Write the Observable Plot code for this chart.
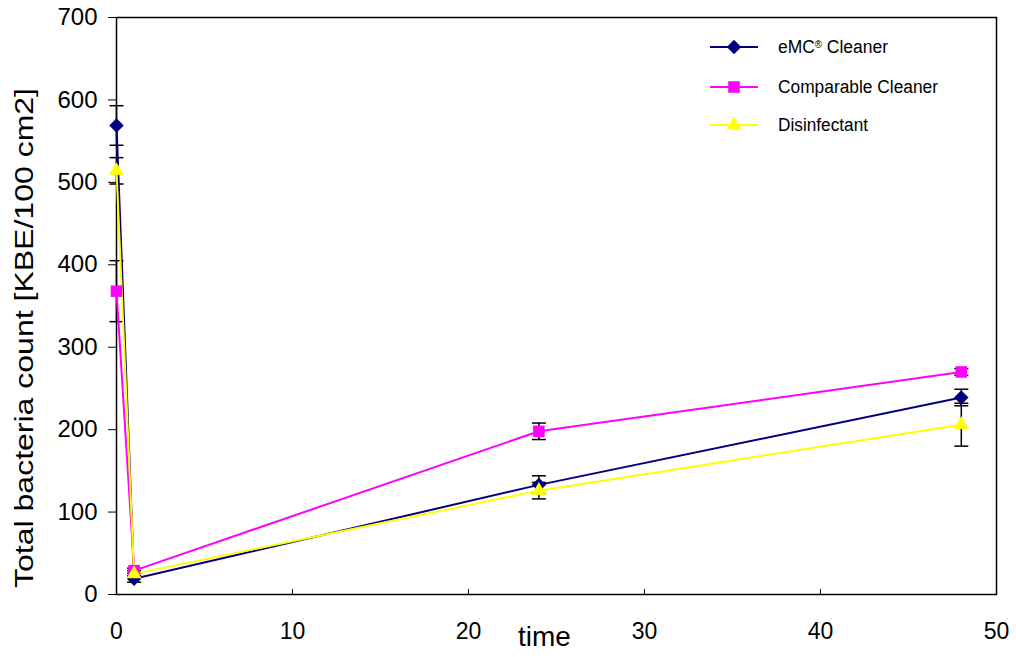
<!DOCTYPE html>
<html>
<head>
<meta charset="utf-8">
<script src="https://cdn.jsdelivr.net/npm/d3@7"></script>
<script src="https://cdn.jsdelivr.net/npm/@observablehq/plot@0.6"></script>
<style>
  html, body { margin: 0; padding: 0; background: #fff; }
  #wrap { position: relative; width: 1016px; height: 657px; }
  #legend { position: absolute; left: 0; top: 0; pointer-events: none; }
</style>
</head>
<body>
<div id="wrap"></div>
<script>
// ---- data ----
const times = [0, 1, 24, 48];
const seriesNames = ["eMC\u00AE Cleaner", "Comparable Cleaner", "Disinfectant"];
const seriesColors = ["#000080", "#FF00FF", "#FFFF00"];
const seriesSymbols = ["diamond2", "square", "triangle"];
const emcValues = [569, 19, 133, 239];
const emcErrors = [24, 4, 11, 10];
const compValues = [368, 29, 198, 270];
const compErrors = [37, 3, 10, 4];
const disValues = [514, 25, 126, 206];
const disErrors = [16, 4, 10, 26];
const xTicks = [0, 10, 20, 30, 40, 50];
const yTicks = [0, 100, 200, 300, 400, 500, 600, 700];
const xLabel = "time";
const yLabel = "Total bacteria count [KBE/100 cm2]";

const valueSets = [emcValues, compValues, disValues];
const errorSets = [emcErrors, compErrors, disErrors];
const symbolRadius = [6.5, 6.5, 5.5];

const rows = [];
seriesNames.forEach((s, i) => {
  times.forEach((t, j) => {
    rows.push({series: s, t, v: valueSets[i][j], e: errorSets[i][j]});
  });
});
const caps = rows.flatMap(d => [{t: d.t, y: d.v + d.e}, {t: d.t, y: d.v - d.e}]);

const capSymbol = {
  draw(context, size) {
    const w = Math.sqrt(size / Math.PI);
    context.moveTo(-w, 0);
    context.lineTo(w, 0);
  }
};

const font = "'Liberation Sans', Arial, sans-serif";

const chart = Plot.plot({
  width: 1016,
  height: 657,
  marginLeft: 116,
  marginRight: 20,
  marginTop: 17,
  marginBottom: 63,
  style: {background: "#fff", fontFamily: font, color: "#000"},
  x: {domain: [0, 50]},
  y: {domain: [0, 700]},
  marks: [
    Plot.frame({stroke: "#000", strokeWidth: 1.5}),
    Plot.axisY({ticks: yTicks, tickSize: 8, tickPadding: 11, fontSize: 24, label: null, stroke: "#000"}),
    Plot.axisX({ticks: xTicks, tickSize: -5, tickPadding: 33, fontSize: 23, label: null, stroke: "#000"}),
    Plot.ruleX(rows, {x: "t", y1: d => d.v - d.e, y2: d => d.v + d.e, stroke: "#000", strokeWidth: 1.5}),
    Plot.dot(caps, {x: "t", y: "y", symbol: capSymbol, r: 7, stroke: "#000", strokeWidth: 1.5, fill: "none"}),
    ...seriesNames.map((s, i) =>
      Plot.line(rows.filter(d => d.series === s), {x: "t", y: "v", stroke: seriesColors[i], strokeWidth: 2})
    ),
    ...seriesNames.map((s, i) =>
      Plot.dot(rows.filter(d => d.series === s), {x: "t", y: "v", symbol: seriesSymbols[i], r: symbolRadius[i], fill: seriesColors[i], stroke: "none"})
    ),
    Plot.text([xLabel], {frameAnchor: "bottom", dy: 51, dx: -12, fontSize: 28, fill: "#000"}),
    Plot.text([yLabel], {frameAnchor: "left", textAnchor: "middle", rotate: -90, dx: -92, dy: 32, fontSize: 26, fill: "#000"})
  ]
});
document.getElementById("wrap").appendChild(chart);

// stretch the y title to the reference's length
d3.select(chart).selectAll("text")
  .filter(function() { return this.textContent === yLabel; })
  .attr("textLength", 500).attr("lengthAdjust", "spacingAndGlyphs");

// ---- legend overlay ----
const legend = d3.select("#wrap").append("svg")
  .attr("id", "legend").attr("width", 1016).attr("height", 657);
const legendY = [47, 87, 125];
const legendTextLen = [110, 160, 90];
const legendSym = [d3.symbolDiamond2, d3.symbolSquare, d3.symbolTriangle];
seriesNames.forEach((s, i) => {
  const g = legend.append("g").attr("transform", `translate(0,${legendY[i]})`);
  g.append("line").attr("x1", 710).attr("x2", 758).attr("y1", 0).attr("y2", 0)
    .attr("stroke", seriesColors[i]).attr("stroke-width", 2);
  const r = symbolRadius[i];
  g.append("path").attr("d", d3.symbol(legendSym[i], r * r * Math.PI)())
    .attr("transform", "translate(734,0)").attr("fill", seriesColors[i]);
  const t = g.append("text").attr("x", 778).attr("y", 0).attr("dy", "0.35em")
    .attr("font-family", font).attr("font-size", 18).attr("fill", "#000")
    .attr("textLength", legendTextLen[i]).attr("lengthAdjust", "spacingAndGlyphs");
  if (s.includes("\u00AE")) {
    const [a, b] = s.split("\u00AE");
    t.append("tspan").text(a);
    t.append("tspan").attr("font-size", 10).attr("baseline-shift", "super").text("\u00AE");
    t.append("tspan").attr("font-size", 18).attr("baseline-shift", "0").text(b);
  } else {
    t.text(s);
  }
});
</script>
</body>
</html>
